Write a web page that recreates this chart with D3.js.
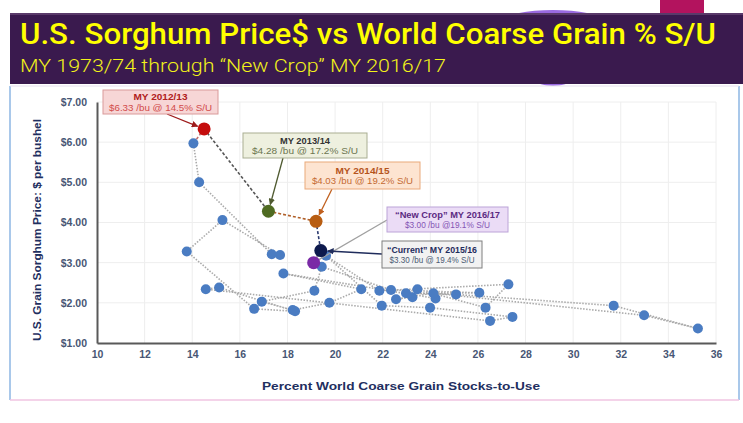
<!DOCTYPE html>
<html>
<head>
<meta charset="utf-8">
<script src="https://cdn.jsdelivr.net/npm/d3@7"></script>
<style>
  html, body { margin: 0; padding: 0; background: #fff; }
  svg { display: block; font-family: "Liberation Sans", Arial, sans-serif; }
</style>
</head>
<body>
<div id="chart"></div>
<script>
// history, in season order (1973/74 .. 2011/12)
const stocksToUse = [24.22, 17.83, 21.10, 19.76, 18.22, 16.92, 19.13, 19.44, 22.35, 26.06,
  22.98, 25.08, 31.70, 35.24, 32.98, 24.13, 22.56, 23.25, 23.46, 26.32,
  27.28, 21.86, 19.62, 21.96, 23.99, 27.45, 26.51, 14.57, 15.13, 18.32,
  16.60, 13.77, 15.27, 17.69, 17.34, 14.29, 14.05];
const priceBu = [2.11, 2.73, 2.34, 2.00, 1.82, 2.03, 2.30, 2.90, 2.32, 2.25,
  2.24, 2.21, 1.93, 1.36, 1.69, 2.24, 2.09, 2.14, 2.34, 1.88,
  2.46, 2.30, 3.17, 1.93, 1.88, 1.65, 1.55, 2.34, 2.38, 1.79,
  1.85, 3.28, 4.06, 3.19, 3.21, 5.00, 5.97];

// called-out seasons
const calloutSeasons = ["MY 2012/13", "MY 2013/14", "MY 2014/15", "\u201cCurrent\u201d MY 2015/16", "\u201cNew Crop\u201d MY 2016/17"];
const calloutPrice = [6.33, 4.28, 4.03, 3.30, 3.00];
const calloutSU = [14.5, 17.2, 19.2, 19.4, 19.1];
const calloutText = ["$6.33 /bu @ 14.5% S/U", "$4.28 /bu @ 17.2% S/U", "$4.03 /bu @ 19.2% S/U",
  "$3.30 /bu @ 19.4% S/U", "$3.00 /bu @19.1% S/U"];

const xTicks = [10, 12, 14, 16, 18, 20, 22, 24, 26, 28, 30, 32, 34, 36];
const yTicks = [1, 2, 3, 4, 5, 6, 7];

// box layout + colours for each callout (same order as above)
const calloutStyle = [
  {box: [103, 90, 115, 24], from: [167, 114], headW: 54, bodyW: 103, fill: "#f7d6d6", stroke: "#d99a9a", head: "#b02020", body: "#d24a4a", dot: "#c40d0d", line: "#9e1c1c", arrow: true},
  {box: [243, 133, 124, 25], from: [283, 158], headW: 50, bodyW: 106, fill: "#eef0df", stroke: "#a9ae92", head: "#333333", body: "#6c7650", dot: "#4f6b22", line: "#4f5a30", arrow: true},
  {box: [305, 162, 115, 27], from: [332, 189], headW: 54, bodyW: 101, fill: "#fde4d1", stroke: "#eaa97a", head: "#b5541c", body: "#c46a32", dot: "#b85d12", line: "#c0601f", arrow: true},
  {box: [382, 241, 100, 27], from: [382, 254], headW: 90, bodyW: 85, fill: "#f2f2f2", stroke: "#7f7f7f", head: "#1f2c5c", body: "#4b5a72", dot: "#0d1a4d", line: "#1f2c5c", arrow: true},
  {box: [387, 207, 121, 25], from: [387, 220], headW: 105, bodyW: 85, fill: "#ebdcf6", stroke: "#bca4d8", head: "#5b2a82", body: "#8454b4", dot: "#7a2aa6", line: "#a0a0a0", arrow: false}
];
// line colours for the segments leading into each callout season
const segColor = ["#c07070", "#555555", "#b0602a", "#2a3a70", "#9a9a9a"];

const W = 743, H = 423;
const svg = d3.select("#chart").append("svg").attr("width", W).attr("height", H);

// header
svg.append("rect").attr("x", 660).attr("y", 0).attr("width", 44).attr("height", 17).attr("fill", "#b3135e");
svg.append("ellipse").attr("cx", 553).attr("cy", 20).attr("rx", 48).attr("ry", 10).attr("fill", "#9a6ae0");
svg.append("ellipse").attr("cx", 553).attr("cy", 80).attr("rx", 17).attr("ry", 6).attr("fill", "#9a6ae0");
svg.append("rect").attr("x", 10).attr("y", 13).attr("width", 733).attr("height", 71).attr("fill", "#3a1a4e");
svg.append("rect").attr("x", 10).attr("y", 13).attr("width", 733).attr("height", 2).attr("fill", "#5a3a6a");

svg.append("text").attr("x", 20).attr("y", 44)
  .attr("fill", "#ffff00").attr("font-size", 29).attr("font-weight", 500)
  .attr("font-family", "Roboto, 'Liberation Sans', sans-serif")
  .attr("textLength", 696).attr("lengthAdjust", "spacingAndGlyphs")
  .text("U.S. Sorghum Price$ vs World Coarse Grain % S/U");
svg.append("text").attr("x", 20).attr("y", 72)
  .attr("fill", "#f2f21a").attr("font-size", 19).attr("font-weight", 300)
  .attr("font-family", "Roboto, 'Liberation Sans', sans-serif")
  .attr("textLength", 426).attr("lengthAdjust", "spacingAndGlyphs")
  .text("MY 1973/74 through \u201cNew Crop\u201d MY 2016/17");

// chart panel
const panel = svg.append("g");
panel.append("line").attr("x1", 10).attr("x2", 10).attr("y1", 86).attr("y2", 400).attr("stroke", "#a9c8ea").attr("stroke-width", 2);
panel.append("line").attr("x1", 739).attr("x2", 739).attr("y1", 86).attr("y2", 400).attr("stroke", "#a9c8ea").attr("stroke-width", 2);
panel.append("line").attr("x1", 10).attr("x2", 739).attr("y1", 400).attr("y2", 400).attr("stroke", "#f0c4e2").attr("stroke-width", 1.5);
panel.append("line").attr("x1", 10).attr("x2", 739).attr("y1", 86).attr("y2", 86).attr("stroke", "#e6e0ee").attr("stroke-width", 1);

const x = d3.scaleLinear().domain([10, 36]).range([97, 716]);
const y = d3.scaleLinear().domain([1, 7]).range([343, 102]);

// grid
svg.append("g").selectAll("line").data(xTicks.slice(1)).enter().append("line")
  .attr("x1", d => x(d)).attr("x2", d => x(d)).attr("y1", y(7)).attr("y2", y(1))
  .attr("stroke", "#eeeeee");
svg.append("g").selectAll("line").data(yTicks.slice(1)).enter().append("line")
  .attr("x1", x(10)).attr("x2", x(36)).attr("y1", d => y(d)).attr("y2", d => y(d))
  .attr("stroke", "#eeeeee");

// axes
const xAxis = svg.append("g").attr("transform", `translate(0,${y(1)})`)
  .call(d3.axisBottom(x).tickValues(xTicks).tickSize(0).tickPadding(8));
const yAxis = svg.append("g").attr("transform", `translate(${x(10)},0)`)
  .call(d3.axisLeft(y).tickValues(yTicks).tickSize(0).tickPadding(10).tickFormat(d => "$" + d.toFixed(2)));
[xAxis, yAxis].forEach(a => {
  a.select(".domain").attr("stroke", "#595959").attr("stroke-width", 2);
  a.selectAll("text").attr("fill", "#485674").attr("font-size", 10.5).attr("font-weight", "bold")
    .attr("font-family", "'Liberation Sans', Arial, sans-serif");
});

svg.append("text").attr("x", 401).attr("y", 390).attr("text-anchor", "middle")
  .attr("fill", "#1f2f5f").attr("font-size", 11.5).attr("font-weight", "bold")
  .attr("textLength", 278).attr("lengthAdjust", "spacingAndGlyphs")
  .text("Percent World Coarse Grain Stocks-to-Use");
svg.append("text").attr("transform", "translate(41,230) rotate(-90)").attr("text-anchor", "middle")
  .attr("fill", "#1f2f5f").attr("font-size", 11).attr("font-weight", "bold")
  .attr("textLength", 222).attr("lengthAdjust", "spacingAndGlyphs")
  .text("U.S. Grain Sorghum Price: $ per bushel");

// path through history
const hist = stocksToUse.map((s, i) => [s, priceBu[i]]);
const recent = calloutSU.map((s, i) => [s, calloutPrice[i]]);
const line = d3.line().x(d => x(d[0])).y(d => y(d[1]));

svg.append("path").datum(hist).attr("d", line)
  .attr("fill", "none").attr("stroke", "#aaaaaa").attr("stroke-width", 1.6).attr("stroke-dasharray", "1.5,1.5");

const segs = recent.map((d, i) => [i === 0 ? hist[hist.length - 1] : recent[i - 1], d]);
svg.append("g").selectAll("path").data(segs).enter().append("path")
  .attr("d", line).attr("fill", "none")
  .attr("stroke", (d, i) => segColor[i]).attr("stroke-width", 1.6).attr("stroke-dasharray", "3,2");

svg.append("g").selectAll("circle").data(hist).enter().append("circle")
  .attr("cx", d => x(d[0])).attr("cy", d => y(d[1])).attr("r", 5)
  .attr("fill", "#4a7cc2");

// callouts
const defs = svg.append("defs");
calloutStyle.forEach((c, i) => {
  defs.append("marker").attr("id", "ah" + i).attr("viewBox", "0 0 10 10")
    .attr("refX", 9).attr("refY", 5).attr("markerWidth", 5).attr("markerHeight", 5)
    .attr("orient", "auto").append("path").attr("d", "M0,0L10,5L0,10z").attr("fill", c.line);
});

const order = [0, 1, 2, 4, 3];
order.forEach(i => {
  const c = calloutStyle[i];
  const px = x(calloutSU[i]), py = y(calloutPrice[i]);
  const dx = px - c.from[0], dy = py - c.from[1], len = Math.hypot(dx, dy);
  const r = c.arrow ? 7 : 5;
  svg.append("line").attr("x1", c.from[0]).attr("y1", c.from[1])
    .attr("x2", px - dx / len * r).attr("y2", py - dy / len * r)
    .attr("stroke", c.line).attr("stroke-width", 1.3)
    .attr("marker-end", c.arrow ? `url(#ah${i})` : null);
  const g = svg.append("g");
  const [bx, by, bw, bh] = c.box;
  g.append("rect").attr("x", bx).attr("y", by).attr("width", bw).attr("height", bh)
    .attr("fill", c.fill).attr("stroke", c.stroke).attr("stroke-width", 1);
  g.append("text").attr("x", bx + bw / 2).attr("y", by + bh / 2 - 2).attr("text-anchor", "middle")
    .attr("font-size", 9).attr("font-weight", "bold").attr("fill", c.head)
    .attr("textLength", c.headW).attr("lengthAdjust", "spacingAndGlyphs")
    .text(calloutSeasons[i]);
  g.append("text").attr("x", bx + bw / 2).attr("y", by + bh / 2 + 8.5).attr("text-anchor", "middle")
    .attr("font-size", 9.5).attr("fill", c.body)
    .attr("textLength", c.bodyW).attr("lengthAdjust", "spacingAndGlyphs")
    .text(calloutText[i]);
});

svg.append("g").selectAll("circle").data(recent).enter().append("circle")
  .attr("cx", d => x(d[0])).attr("cy", d => y(d[1])).attr("r", 6.5)
  .attr("fill", (d, i) => calloutStyle[i].dot);
</script>
</body>
</html>
